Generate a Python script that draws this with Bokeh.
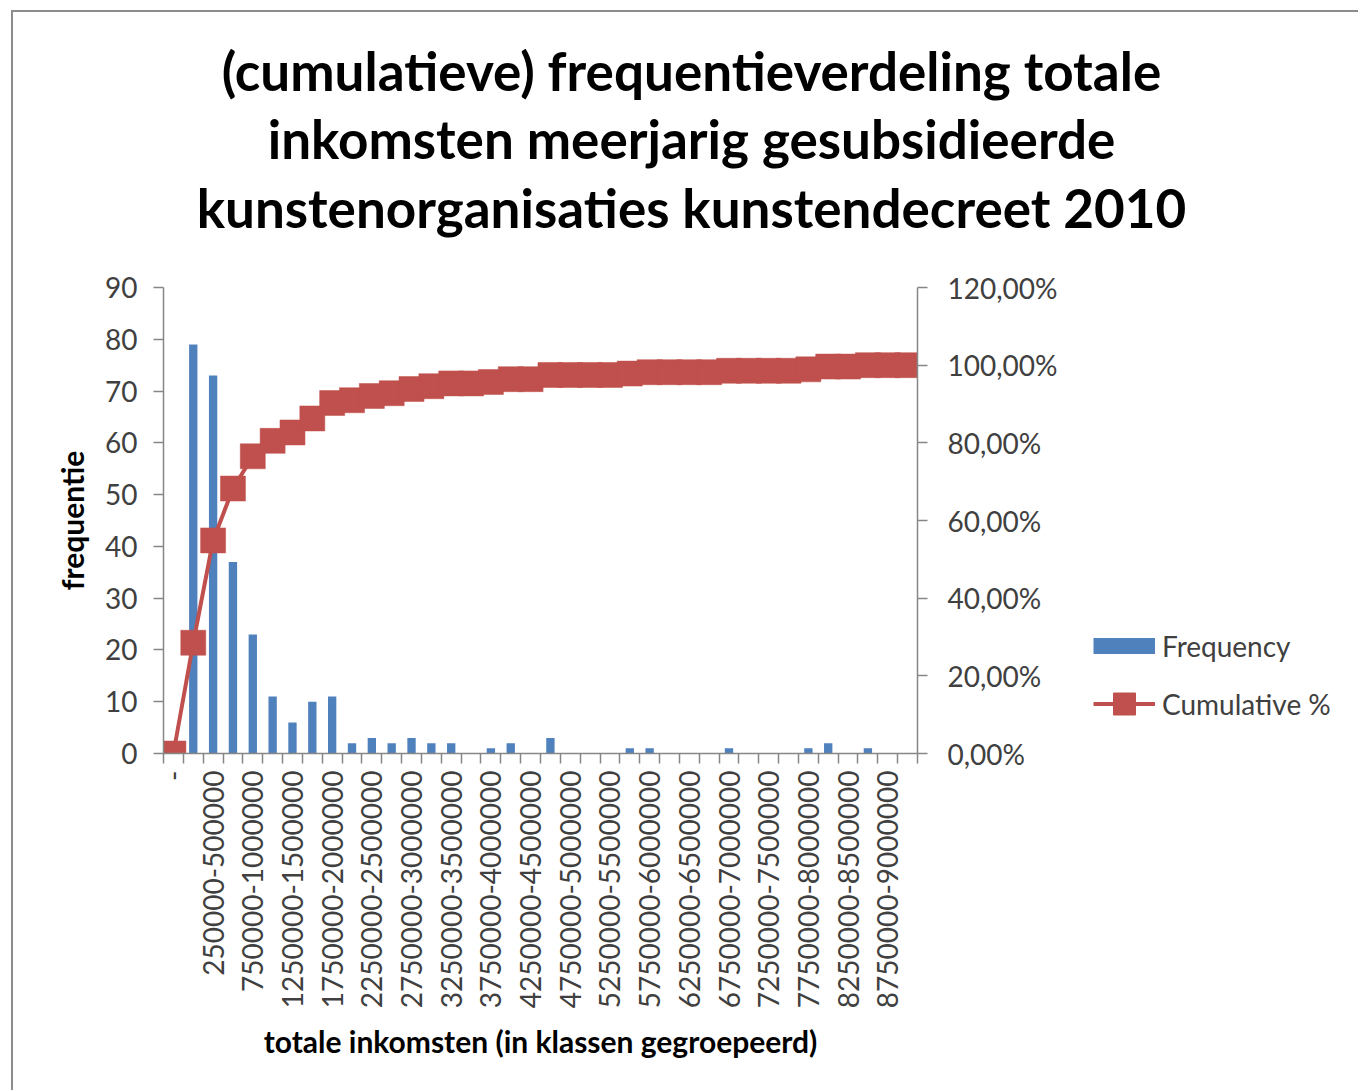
import math
from bokeh.plotting import figure
from bokeh.layouts import column, row
from bokeh.models import (Range1d, LinearAxis, FixedTicker, Legend, LegendItem)
from bokeh.core.properties import value
from bokeh.embed import file_html
from bokeh.resources import INLINE

# ---------------- data ----------------
categories = [
    "-", "0-250000", "250000-500000", "500000-750000", "750000-1000000",
    "1000000-1250000", "1250000-1500000", "1500000-1750000", "1750000-2000000",
    "2000000-2250000", "2250000-2500000", "2500000-2750000", "2750000-3000000",
    "3000000-3250000", "3250000-3500000", "3500000-3750000", "3750000-4000000",
    "4000000-4250000", "4250000-4500000", "4500000-4750000", "4750000-5000000",
    "5000000-5250000", "5250000-5500000", "5500000-5750000", "5750000-6000000",
    "6000000-6250000", "6250000-6500000", "6500000-6750000", "6750000-7000000",
    "7000000-7250000", "7250000-7500000", "7500000-7750000", "7750000-8000000",
    "8000000-8250000", "8250000-8500000", "8500000-8750000", "8750000-9000000",
    "9000000-9250000",
]
frequency = [0, 79, 73, 37, 23, 11, 6, 10, 11, 2, 3, 2, 3, 2, 2, 0, 1, 2, 0, 3,
             0, 0, 0, 1, 1, 0, 0, 0, 1, 0, 0, 0, 1, 2, 0, 1, 0, 0]
cumulative_pct = [0.00, 28.52, 54.87, 68.23, 76.53, 80.51, 82.67, 86.28, 90.25, 90.97,
                  92.06, 92.78, 93.86, 94.58, 95.31, 95.31, 95.67, 96.39, 96.39, 97.47,
                  97.47, 97.47, 97.47, 97.83, 98.19, 98.19, 98.19, 98.19, 98.56, 98.56,
                  98.56, 98.56, 98.92, 99.64, 99.64, 100.00, 100.00, 100.00]
freq_ticks = [0, 10, 20, 30, 40, 50, 60, 70, 80, 90]
pct_ticks = [0, 20, 40, 60, 80, 100, 120]
pct_labels = ["0,00%", "20,00%", "40,00%", "60,00%", "80,00%", "100,00%", "120,00%"]
title_lines = ["(cumulatieve) frequentieverdeling totale",
               "inkomsten meerjarig gesubsidieerde",
               "kunstenorganisaties kunstendecreet 2010"]
series_names = ["Frequency", "Cumulative %"]

idx = list(range(len(categories)))

FONT = "Lato"
TICK_COLOR = "#404040"
AXIS_COLOR = "#868686"
BLUE = "#4F81BD"
RED = "#C0504D"

# overall block starts at page (13, 12)
TOTAL_W = 1345
TITLE_H = 250
MAIN_W, MAIN_H = 1054, 828
FL, FT, FW, FH = 150, 25, 754, 466


def bare(fig):
    fig.outline_line_color = None
    fig.xgrid.visible = False
    fig.ygrid.visible = False
    fig.axis.visible = False
    fig.background_fill_color = "white"
    fig.border_fill_color = "white"
    return fig


# ---------------- title block ----------------
tp = bare(figure(width=TOTAL_W, height=TITLE_H, output_backend="svg", toolbar_location=None,
                 x_range=Range1d(0, TOTAL_W), y_range=Range1d(TITLE_H, 0),
                 min_border=0, x_axis_type=None, y_axis_type=None))
tp.text(x=[678, 678, 678], y=[58, 126, 195], text=title_lines,
        text_align="center", text_baseline="middle",
        text_font=value(FONT), text_font_style="bold", text_font_size="53px",
        text_color="black")

# ---------------- main chart ----------------
p = figure(width=MAIN_W, height=MAIN_H, output_backend="svg", toolbar_location=None,
           x_range=Range1d(-0.5, len(categories) - 0.5), y_range=Range1d(0, 90),
           min_border_left=FL, min_border_top=FT,
           min_border_right=MAIN_W - FL - FW, min_border_bottom=MAIN_H - FT - FH)
p.extra_y_ranges = {"pct": Range1d(0, 120)}
p.outline_line_color = None
p.xgrid.visible = False
p.ygrid.visible = False
p.background_fill_color = "white"
p.border_fill_color = "white"

xa = p.xaxis[0]
xa.ticker = FixedTicker(ticks=idx[::2], minor_ticks=[i - 0.5 for i in range(len(categories) + 1)])
xa.major_label_overrides = {i: categories[i] for i in idx[::2]}
xa.major_label_orientation = math.pi / 2
xa.major_tick_line_color = None
xa.major_tick_out = 10
xa.major_tick_in = 0
xa.minor_tick_out = 10
xa.minor_tick_in = 0
xa.minor_tick_line_color = AXIS_COLOR
xa.minor_tick_line_width = 1.5
xa.major_label_standoff = 7
xa.major_label_text_font = FONT
xa.major_label_text_font_size = "28px"
xa.major_label_text_color = TICK_COLOR
xa.axis_line_color = AXIS_COLOR
xa.axis_line_width = 1.5
xa.axis_label = "totale inkomsten (in klassen gegroepeerd)"
xa.axis_label_text_font = FONT
xa.axis_label_text_font_style = "bold"
xa.axis_label_text_font_size = "30px"
xa.axis_label_text_color = "black"
xa.axis_label_standoff = 12

ya = p.yaxis[0]
ya.ticker = FixedTicker(ticks=freq_ticks, minor_ticks=[])
ya.major_tick_out = 10
ya.major_tick_in = 0
ya.major_tick_line_color = AXIS_COLOR
ya.major_tick_line_width = 1.5
ya.minor_tick_line_color = None
ya.major_label_standoff = 16
ya.major_label_text_font = FONT
ya.major_label_text_font_size = "28px"
ya.major_label_text_color = TICK_COLOR
ya.axis_line_color = AXIS_COLOR
ya.axis_line_width = 1.5
ya.axis_label = "frequentie"
ya.axis_label_text_font = FONT
ya.axis_label_text_font_style = "bold"
ya.axis_label_text_font_size = "30px"
ya.axis_label_text_color = "black"
ya.axis_label_standoff = 12

ra = LinearAxis(y_range_name="pct")
ra.ticker = FixedTicker(ticks=pct_ticks, minor_ticks=[])
ra.major_label_overrides = dict(zip(pct_ticks, pct_labels))
ra.major_tick_out = 10
ra.major_tick_in = 0
ra.major_tick_line_color = AXIS_COLOR
ra.major_tick_line_width = 1.5
ra.minor_tick_line_color = None
ra.major_label_standoff = 20
ra.major_label_text_font = FONT
ra.major_label_text_font_size = "28px"
ra.major_label_text_color = TICK_COLOR
ra.axis_line_color = AXIS_COLOR
ra.axis_line_width = 1.5
p.add_layout(ra, "right")

p.vbar(x=idx, top=frequency, width=0.42, fill_color=BLUE, line_color=None)
p.line(x=idx, y=cumulative_pct, y_range_name="pct", line_color=RED, line_width=4)
p.scatter(x=idx, y=cumulative_pct, y_range_name="pct", marker="square", size=25,
          fill_color=RED, line_color=RED, line_width=0.5)

# ---------------- legend block ----------------
LEG_W = TOTAL_W - MAIN_W
lp = bare(figure(width=LEG_W, height=MAIN_H, output_backend="svg", toolbar_location=None,
                 x_range=Range1d(0, 1), y_range=Range1d(0, 1), min_border=0,
                 x_axis_type=None, y_axis_type=None))
nan = float("nan")
lg_bar = lp.line(x=[0, 1], y=[nan, nan], line_color=BLUE, line_width=16)
lg_line = lp.line(x=[0, 1], y=[nan, nan], line_color=RED, line_width=4)
lg_mark = lp.scatter(x=[0], y=[nan], marker="square", fill_color=RED, line_color=RED)
legend = Legend(items=[LegendItem(label=series_names[0], renderers=[lg_bar]),
                       LegendItem(label=series_names[1], renderers=[lg_line, lg_mark])],
                location=(26, 22), orientation="vertical",
                glyph_width=62, glyph_height=55, spacing=3, padding=0, margin=0,
                label_standoff=7, label_text_font=FONT, label_text_font_size="28px",
                label_text_color=TICK_COLOR, border_line_color=None,
                background_fill_alpha=0)
lp.add_layout(legend)

root = column(tp, row(p, lp, spacing=0), spacing=0)
root.styles = {"margin-left": "11px", "margin-top": "10px",
               "border-left": "2px solid #8c8c8c", "border-top": "2px solid #8c8c8c"}

open("out.html", "w").write(file_html(root, INLINE))
